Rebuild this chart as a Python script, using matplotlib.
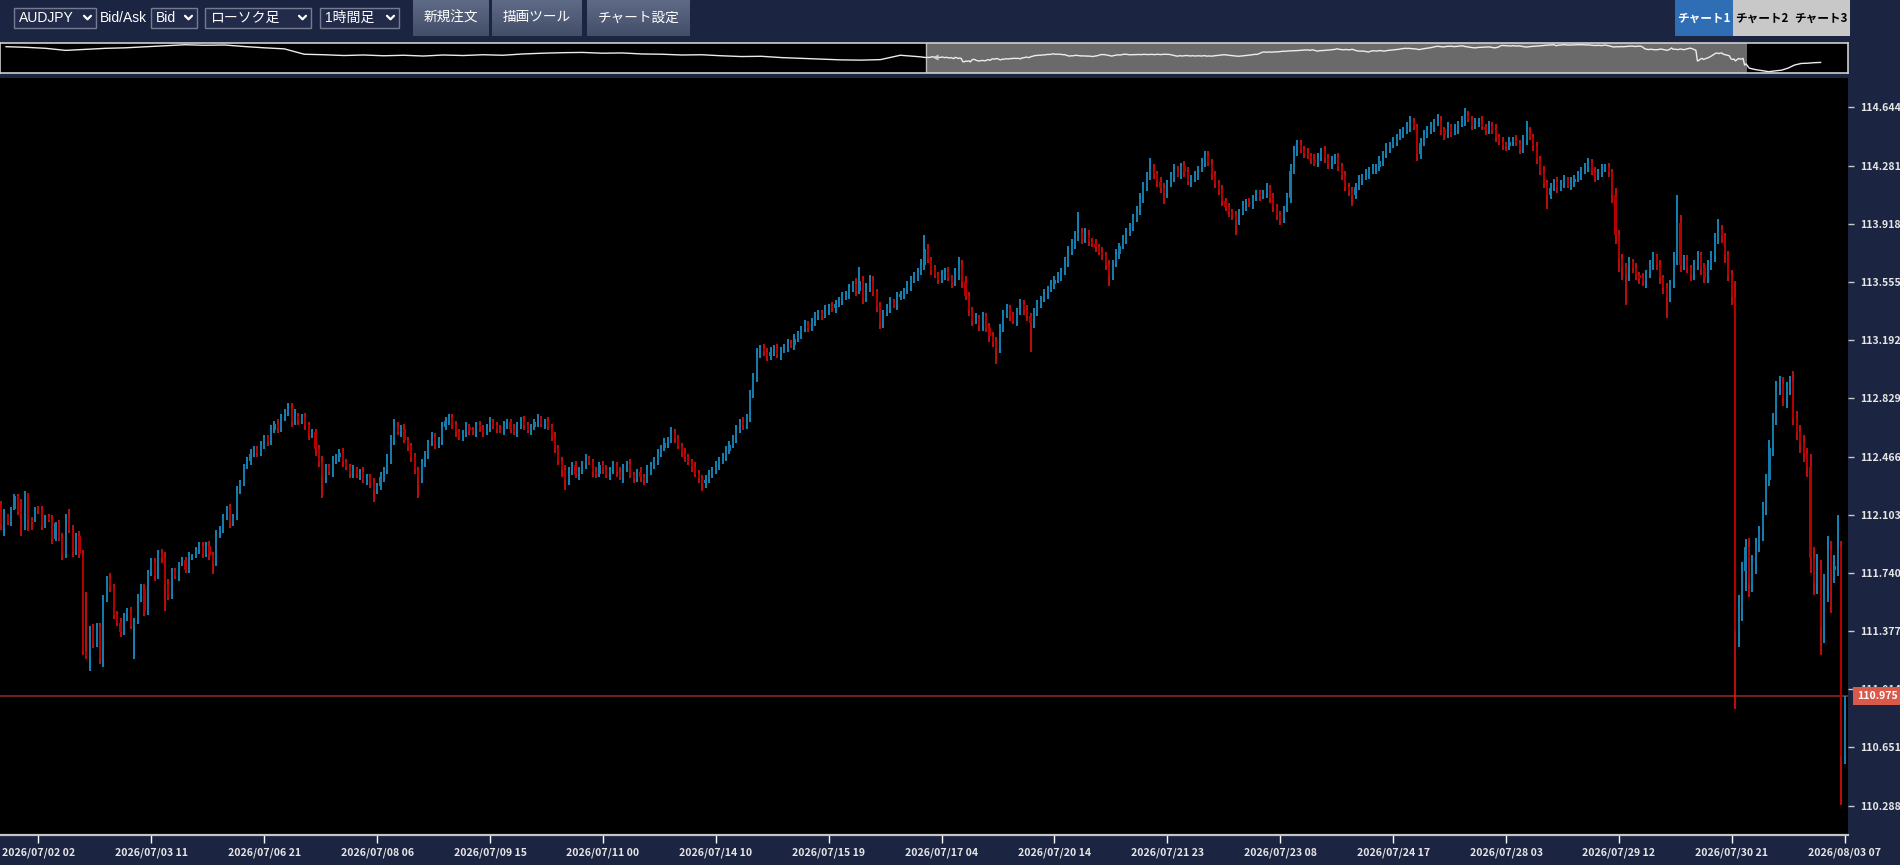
import numpy as np
import matplotlib
matplotlib.use("Agg")
import matplotlib.pyplot as plt
import matplotlib.transforms as mtransforms
from matplotlib.patches import Rectangle

plt.rcParams['font.family'] = ['Noto Sans CJK JP', 'DejaVu Sans']

# AUDJPY 1h bid candles, closes in 0.01 JPY above 110.00 (open = previous close)
first_open = 217
closes = [
    204, 210, 205, 214, 222, 212, 211, 224, 207, 206, 214, 213, 203, 209, 207, 195, 205, 196, 185, 209,
    201, 187, 197, 186, 125, 122, 139, 130, 141, 120, 158, 171, 165, 148, 143, 137, 147, 150, 141, 144,
    159, 164, 150, 174, 181, 172, 186, 183, 167, 160, 175, 172, 180, 182, 176, 185, 185, 188, 191, 186,
    191, 185, 180, 199, 201, 209, 214, 205, 209, 226, 230, 241, 244, 248, 251, 249, 253, 258, 256, 263,
    267, 264, 271, 274, 277, 268, 272, 269, 271, 266, 260, 262, 251, 243, 233, 240, 237, 244, 246, 249,
    243, 240, 236, 238, 235, 237, 232, 234, 230, 226, 228, 234, 238, 245, 256, 265, 262, 264, 257, 253,
    246, 238, 233, 242, 248, 255, 259, 254, 257, 265, 269, 271, 266, 262, 259, 261, 265, 263, 262, 266,
    264, 262, 265, 268, 266, 264, 263, 266, 268, 264, 262, 266, 269, 266, 263, 265, 268, 270, 267, 268,
    265, 259, 252, 244, 238, 232, 238, 241, 235, 238, 242, 245, 243, 237, 236, 241, 239, 235, 238, 241,
    237, 234, 240, 242, 235, 233, 237, 234, 232, 238, 241, 244, 248, 252, 255, 257, 261, 258, 253, 249,
    246, 243, 240, 236, 233, 230, 232, 236, 238, 241, 244, 247, 250, 254, 258, 263, 268, 266, 271, 285,
    296, 310, 314, 312, 309, 312, 314, 310, 313, 315, 317, 316, 320, 323, 326, 329, 327, 331, 334, 336,
    335, 338, 340, 339, 342, 344, 346, 348, 351, 354, 350, 356, 345, 352, 356, 349, 340, 330, 336, 339,
    343, 341, 346, 348, 350, 353, 357, 359, 362, 366, 376, 369, 363, 360, 357, 360, 362, 358, 355, 360,
    366, 356, 347, 338, 331, 333, 328, 334, 327, 322, 318, 314, 327, 335, 339, 334, 331, 337, 342, 338,
    334, 330, 336, 342, 345, 348, 351, 354, 357, 359, 362, 368, 374, 379, 383, 386, 382, 385, 381, 379,
    377, 374, 372, 366, 360, 367, 373, 378, 382, 386, 390, 395, 400, 407, 415, 421, 426, 423, 418, 414,
    411, 417, 421, 425, 423, 428, 424, 418, 420, 422, 426, 430, 434, 430, 422, 417, 413, 406, 402, 399,
    397, 394, 399, 403, 405, 404, 408, 410, 409, 411, 414, 408, 402, 397, 395, 401, 408, 425, 437, 441,
    438, 436, 434, 432, 430, 433, 437, 433, 429, 431, 433, 428, 422, 415, 412, 410, 415, 419, 421, 423,
    425, 426, 427, 431, 435, 439, 441, 443, 446, 448, 450, 452, 455, 452, 435, 442, 448, 450, 452, 455,
    456, 450, 447, 452, 449, 451, 454, 456, 459, 457, 453, 455, 456, 452, 450, 453, 451, 446, 443, 441,
    440, 443, 444, 442, 438, 444, 449, 446, 440, 432, 425, 417, 410, 414, 418, 414, 417, 419, 416, 418,
    420, 422, 425, 427, 430, 424, 421, 424, 426, 427, 424, 410, 385, 370, 365, 360, 368, 364, 360, 358,
    356, 361, 366, 371, 366, 358, 352, 346, 355, 370, 392, 366, 369, 364, 360, 366, 372, 364, 358, 366,
    372, 382, 388, 384, 372, 360, 346, 138, 152, 175, 190, 168, 180, 192, 200, 215, 232, 252, 270, 289,
    292, 283, 290, 294, 270, 262, 255, 248, 240, 183, 168, 176, 140, 165, 188, 176, 178, 190, 60, 82,
]
# wick lengths above / below the body, 0.01 JPY
upper_wick = [
    2, 4, 1, 1, 1, 1, 8, 1, 0, 2, 1, 2, 3, 1, 2, 3, 1, 2, 3, 2,
    5, 3, 2, 3, 2, 37, 2, 3, 2, 2, 2, 1, 3, 2, 2, 3, 2, 2, 3, 2,
    2, 3, 3, 2, 2, 2, 2, 3, 4, 3, 2, 2, 1, 2, 2, 2, 1, 2, 2, 2,
    2, 3, 2, 2, 2, 2, 2, 3, 2, 2, 2, 1, 2, 3, 2, 2, 3, 2, 2, 3,
    2, 3, 2, 2, 3, 3, 4, 2, 2, 3, 2, 2, 2, 3, 4, 2, 2, 3, 2, 2,
    3, 2, 2, 3, 2, 2, 3, 2, 2, 3, 2, 3, 2, 3, 4, 5, 3, 2, 3, 2,
    2, 3, 2, 3, 2, 2, 3, 2, 2, 3, 2, 2, 2, 3, 2, 2, 3, 2, 2, 2,
    3, 2, 2, 3, 2, 2, 2, 3, 2, 2, 3, 2, 2, 3, 2, 2, 2, 3, 2, 2,
    3, 2, 3, 2, 2, 3, 2, 2, 3, 2, 2, 3, 2, 2, 3, 2, 3, 2, 2, 3,
    2, 3, 2, 2, 3, 2, 2, 3, 2, 3, 2, 2, 3, 2, 3, 2, 4, 3, 2, 2,
    3, 2, 2, 3, 2, 2, 3, 2, 2, 3, 2, 2, 3, 2, 2, 3, 2, 3, 2, 3,
    3, 4, 2, 3, 2, 3, 2, 3, 2, 2, 3, 2, 3, 2, 2, 3, 2, 2, 3, 2,
    2, 3, 2, 3, 2, 2, 3, 2, 3, 2, 4, 9, 3, 3, 4, 3, 2, 3, 2, 3,
    3, 2, 3, 2, 2, 3, 2, 3, 2, 4, 9, 3, 2, 3, 2, 3, 2, 3, 2, 4,
    5, 3, 3, 2, 2, 3, 2, 3, 2, 3, 2, 3, 2, 3, 3, 2, 3, 2, 3, 2,
    3, 2, 3, 2, 2, 3, 2, 3, 2, 3, 2, 3, 4, 3, 4, 13, 3, 4, 3, 2,
    3, 2, 3, 2, 3, 2, 3, 2, 3, 3, 2, 3, 3, 4, 3, 3, 7, 3, 2, 3,
    3, 2, 3, 4, 3, 2, 3, 3, 2, 3, 2, 3, 3, 3, 2, 3, 2, 3, 2, 3,
    2, 3, 2, 3, 2, 3, 2, 3, 3, 2, 3, 2, 3, 2, 3, 2, 3, 4, 3, 3,
    3, 2, 3, 2, 3, 3, 2, 3, 2, 3, 2, 3, 2, 3, 2, 3, 2, 3, 2, 3,
    2, 3, 2, 3, 2, 3, 2, 3, 2, 3, 2, 3, 4, 3, 2, 3, 2, 3, 3, 2,
    4, 3, 2, 3, 2, 3, 2, 3, 5, 3, 2, 3, 2, 3, 2, 3, 2, 3, 2, 3,
    2, 3, 2, 3, 2, 3, 7, 3, 2, 3, 2, 3, 2, 3, 2, 3, 2, 3, 2, 3,
    2, 3, 2, 3, 3, 2, 3, 2, 3, 2, 3, 2, 4, 3, 3, 2, 3, 2, 3, 2,
    3, 2, 3, 3, 2, 3, 2, 3, 2, 4, 18, 5, 3, 3, 2, 3, 3, 2, 3, 3,
    3, 4, 7, 3, 2, 3, 3, 10, 8, 6, 5, 6, 5, 4, 3, 3, 4, 5, 4, 5,
    5, 4, 3, 3, 6, 5, 4, 5, 4, 8, 7, 10, 6, 8, 9, 6, 7, 20, 4, 15,
]
lower_wick = [
    3, 7, 1, 2, 1, 2, 14, 10, 7, 5, 0, 2, 2, 1, 1, 3, 1, 2, 3, 2,
    2, 3, 2, 3, 2, 2, 9, 3, 2, 3, 5, 2, 3, 3, 2, 3, 2, 3, 2, 21,
    2, 3, 3, 2, 2, 3, 2, 3, 17, 3, 2, 2, 3, 2, 2, 2, 3, 2, 2, 3,
    2, 3, 7, 2, 3, 2, 2, 3, 2, 2, 3, 2, 2, 3, 2, 3, 2, 2, 3, 2,
    2, 3, 2, 2, 2, 3, 2, 3, 2, 3, 3, 2, 4, 3, 12, 3, 2, 3, 2, 3,
    3, 2, 3, 3, 2, 3, 2, 3, 3, 8, 3, 2, 3, 2, 3, 2, 2, 3, 2, 3,
    3, 2, 12, 3, 2, 3, 2, 3, 2, 3, 2, 3, 2, 3, 2, 3, 2, 3, 2, 3,
    2, 3, 2, 3, 2, 3, 2, 3, 2, 3, 2, 3, 2, 3, 2, 3, 2, 3, 2, 3,
    2, 3, 3, 3, 4, 6, 3, 3, 2, 3, 2, 3, 2, 3, 3, 2, 3, 2, 3, 2,
    3, 2, 4, 3, 2, 3, 2, 3, 3, 2, 3, 2, 3, 2, 2, 3, 2, 3, 2, 3,
    3, 2, 3, 2, 3, 5, 3, 2, 3, 2, 3, 2, 3, 2, 2, 3, 2, 3, 2, 3,
    2, 3, 2, 3, 3, 2, 3, 2, 3, 2, 3, 2, 3, 2, 3, 2, 3, 2, 3, 2,
    3, 2, 3, 2, 3, 2, 3, 2, 3, 2, 3, 2, 3, 2, 3, 2, 3, 4, 3, 2,
    3, 2, 3, 2, 3, 2, 3, 2, 3, 2, 3, 2, 3, 2, 3, 2, 3, 2, 3, 2,
    3, 4, 3, 4, 3, 2, 3, 3, 3, 4, 3, 10, 3, 3, 2, 3, 2, 3, 2, 3,
    3, 18, 3, 2, 3, 2, 3, 2, 3, 2, 3, 2, 3, 2, 3, 2, 3, 2, 3, 2,
    3, 2, 3, 3, 7, 3, 2, 3, 2, 3, 2, 3, 2, 3, 2, 3, 2, 3, 3, 3,
    7, 3, 2, 3, 2, 3, 3, 2, 3, 2, 3, 2, 3, 2, 3, 3, 3, 3, 2, 3,
    3, 9, 3, 2, 3, 2, 3, 2, 3, 2, 3, 3, 3, 3, 4, 3, 2, 3, 2, 3,
    2, 3, 2, 3, 2, 3, 2, 3, 3, 3, 2, 3, 3, 3, 3, 7, 3, 2, 3, 2,
    3, 2, 3, 2, 3, 2, 3, 2, 3, 2, 3, 2, 3, 2, 4, 3, 2, 3, 2, 3,
    2, 3, 3, 2, 3, 2, 3, 2, 3, 2, 3, 2, 3, 2, 3, 2, 3, 3, 2, 3,
    3, 2, 3, 2, 3, 2, 3, 2, 3, 3, 3, 3, 9, 3, 2, 3, 2, 3, 2, 3,
    3, 2, 3, 2, 3, 2, 3, 2, 3, 2, 3, 5, 6, 8, 8, 19, 4, 3, 3, 4,
    3, 4, 3, 3, 3, 4, 4, 13, 3, 3, 4, 4, 3, 3, 4, 3, 3, 4, 3, 3,
    3, 4, 3, 4, 5, 4, 5, 49, 10, 8, 12, 9, 6, 7, 5, 6, 5, 4, 5, 4,
    4, 5, 6, 5, 4, 5, 6, 5, 6, 9, 8, 7, 17, 10, 9, 27, 8, 6, 31, 5,
]

tick_labels = ["2026/07/02 02", "2026/07/03 11", "2026/07/06 21", "2026/07/08 06",
               "2026/07/09 15", "2026/07/11 00", "2026/07/14 10", "2026/07/15 19",
               "2026/07/17 04", "2026/07/20 14", "2026/07/21 23", "2026/07/23 08",
               "2026/07/24 17", "2026/07/28 03", "2026/07/29 12", "2026/07/30 21",
               "2026/08/03 07"]
first_tick = 11
tick_step = 33

price_ticks = [110.288, 110.651, 111.014, 111.377, 111.740, 112.103, 112.466,
               112.829, 113.192, 113.555, 113.918, 114.281, 114.644]
bid = 110.975

# navigator line outside the visible window (price)
nav_before = [114.17, 114.05, 113.85, 113.45, 113.65, 113.85, 113.95, 114.15, 114.35, 114.55,
              114.45, 114.50, 114.20, 113.95, 113.75, 112.70, 112.60, 112.45, 112.55, 112.40,
              112.50, 112.35, 112.55, 112.45, 112.60, 112.50, 112.75, 112.90, 113.00, 113.05,
              112.90, 112.95, 112.75, 112.70, 112.55, 112.60, 112.40, 112.25, 112.30, 112.05,
              111.90, 111.75, 111.60, 111.55, 111.65, 112.50, 112.20]
nav_after = [110.0, 109.7, 109.5, 109.3, 109.45, 109.6, 110.0, 110.6, 110.9, 110.95, 111.05, 111.1]

# ---- candles
n = min(len(closes), len(upper_wick), len(lower_wick))
c = 110 + np.array(closes[:n]) / 100.
o = np.r_[110 + first_open / 100., c[:-1]]
hi = np.maximum(o, c) + np.array(upper_wick[:n]) / 100.
lo = np.minimum(o, c) - np.array(lower_wick[:n]) / 100.
up = c >= o
idx = np.arange(n)

W, H = 1900., 865.
navy = '#1b2440'
fig = plt.figure(figsize=(19, 8.65), dpi=100, facecolor=navy)


def px(x0, y0, x1, y1):
    return [x0 / W, 1 - y1 / H, (x1 - x0) / W, (y1 - y0) / H]


ax = fig.add_axes(px(0, 77.7, 1848, 835), facecolor='black')
ax.vlines(idx[up], lo[up], hi[up], color='#1aa8ea', lw=1.1, zorder=2)
ax.vlines(idx[~up], lo[~up], hi[~up], color='#f21212', lw=1.1, zorder=2)
body_b = np.minimum(o, c)
body_h = np.maximum(np.abs(c - o), 0.006)
ax.bar(idx[up], body_h[up], bottom=body_b[up], width=0.62, color='#157aa8', lw=0, zorder=3)
ax.bar(idx[~up], body_h[~up], bottom=body_b[~up], width=0.62, color='#b50000', lw=0, zorder=3)

ax.axhline(bid, color='#8e2a20', lw=1.2, zorder=1)

ax.set_xlim(-0.234, 539.95)
ax.set_ylim(110.105, 114.829)

ax.set_xticks([first_tick + tick_step * k for k in range(len(tick_labels))])
ax.set_xticklabels(tick_labels)
ax.set_yticks(price_ticks)
ax.set_yticklabels(['%.3f' % p for p in price_ticks])
ax.yaxis.tick_right()
ax.tick_params(axis='x', direction='out', length=6, width=1, color='white', pad=3,
               labelsize=7.6, labelcolor='#e6e6e6')
ax.tick_params(axis='y', direction='out', length=4, width=1, color='#c8c8c8', pad=5,
               labelsize=7.6, labelcolor='#e6e6e6')
for lab in ax.get_xticklabels() + ax.get_yticklabels():
    lab.set_fontweight('bold')
for s in ['top', 'left', 'right']:
    ax.spines[s].set_visible(False)
ax.spines['bottom'].set_color('#c4c4c4')
ax.spines['bottom'].set_linewidth(1.6)

off = mtransforms.ScaledTranslation(9 / 100., 0, fig.dpi_scale_trans)
tr = mtransforms.blended_transform_factory(ax.transAxes, ax.transData) + off
ax.text(1.0, bid, '%.3f' % bid, transform=tr, ha='left', va='center', fontsize=7.6,
        fontweight='bold', color='white', clip_on=False, zorder=10,
        bbox=dict(boxstyle='square,pad=0.38', fc='#d95a4b', ec='none'))

# ---- navigator strip
nav = fig.add_axes(px(0, 43.3, 1848, 72.7), facecolor='black')
nav_x = np.r_[np.linspace(-605, -4, len(nav_before)), idx, np.linspace(541, 588, len(nav_after))]
nav_y = np.r_[nav_before, c, nav_after]
nav.axvspan(-0.5, n - 0.5, color='#6a6a6a', lw=0)
nav.axvline(-0.5, color='#bdbdbd', lw=1)
nav.plot(nav_x, nav_y, color='#ececec', lw=1.0)
nav.plot([6], [c[0] + 0.15], marker='<', ms=4, color='#cfcfcf', mec='none')
nav.set_xlim(-609, 606)
nav.set_ylim(109.1, 114.83)
nav.set_xticks([])
nav.set_yticks([])
for s in nav.spines.values():
    s.set_color('#cfcfcf')
    s.set_linewidth(1.2)

# ---- toolbar
ui = fig.add_axes([0, 0, 1, 1], zorder=-1)
ui.set_xlim(0, W)
ui.set_ylim(H, 0)
ui.axis('off')
latin = ['Liberation Sans', 'Noto Sans CJK JP']

selects = [("AUDJPY", 14, 96), ("Bid", 151, 197), ("ローソク足", 205, 311), ("1時間足", 320, 399)]
for label, x0, x1 in selects:
    ui.add_patch(Rectangle((x0, 8.3), x1 - x0, 19.4, fc='#222c4a', ec='#747c92', lw=1))
    ui.text(x0 + 5, 18.3, label, color='white', fontsize=10, family=latin, va='center')
    ui.plot([x1 - 12, x1 - 8.5, x1 - 5], [15.8, 19.3, 15.8], color='white', lw=1.6,
            solid_capstyle='round')
ui.text(100, 18.3, "Bid/Ask", color='white', fontsize=10, family=latin, va='center')

grad = np.linspace(0, 1, 40)[:, None]
cmap_btn = matplotlib.colors.LinearSegmentedColormap.from_list('btn', ['#5f6b86', '#434e69'])
for label, x0, x1 in [("新規注文", 413, 489), ("描画ツール", 492, 582), ("チャート設定", 587, 690)]:
    ui.imshow(grad, cmap=cmap_btn, extent=(x0, x1, 36, 0), aspect='auto')
    ui.text((x0 + x1) / 2, 17.5, label, color='white', fontsize=9.8, ha='center', va='center')

for label, x0, x1, fc, tc in [("チャート1", 1675, 1733, '#2f6db5', 'white'),
                              ("チャート2", 1733, 1791, '#c8c8c8', 'black'),
                              ("チャート3", 1791, 1850, '#c8c8c8', 'black')]:
    ui.add_patch(Rectangle((x0, 0), x1 - x0, 36, fc=fc, ec='none'))
    ui.text((x0 + x1) / 2, 18, label, color=tc, fontsize=8.4, fontweight='bold',
            ha='center', va='center')
ui.set_xlim(0, W)
ui.set_ylim(H, 0)

fig.savefig('out.png', dpi=100, facecolor=navy)
